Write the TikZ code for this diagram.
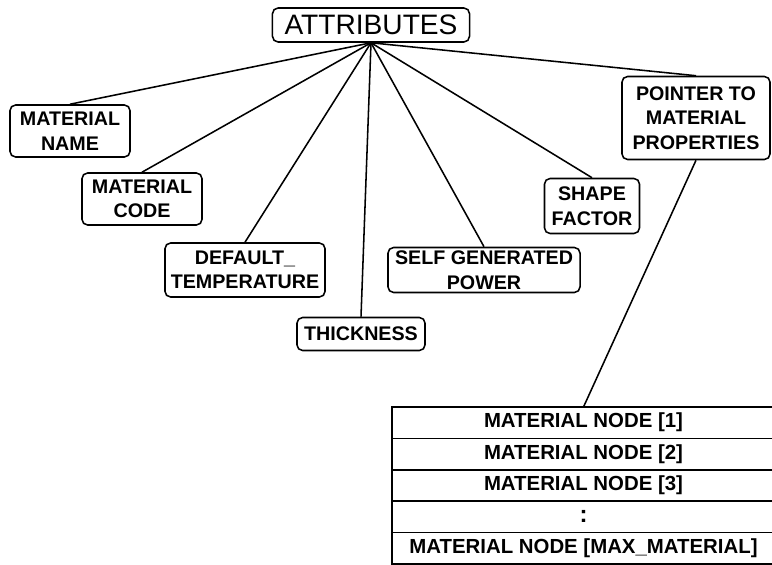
\documentclass[tikz,border=0pt]{standalone}
\usepackage{fontspec}
\setmainfont{Liberation Sans}
\usepackage{tikz}
\usetikzlibrary{positioning}

\begin{document}
\begin{tikzpicture}[
  x=0.025cm, y=-0.025cm,
  attrbox/.style={draw, rounded corners=4pt, line width=1.1pt, inner sep=0pt,
    font=\fontsize{20}{22}\selectfont},
  field/.style={draw, rounded corners=4pt, line width=1.1pt, inner sep=0pt,
    align=center, font=\fontsize{14}{17.5}\selectfont\bfseries},
  tablerow/.style={draw, line width=1.1pt, inner sep=0pt, outer sep=0pt,
    minimum width=9.575cm, minimum height=0.785cm,
    font=\fontsize{14.5}{17}\selectfont\bfseries},
  link/.style={line width=1.1pt}
]

\useasboundingbox (0,0) rectangle (772,565);
\clip (0,0) rectangle (772,565);

% Root
\node[attrbox, minimum width=4.925cm, minimum height=0.85cm] (attr) at (371,25) {ATTRIBUTES};

% Attribute fields
\node[field, minimum width=3cm, minimum height=1.3cm] (name) at (70,131) {MATERIAL\\NAME};
\node[field, minimum width=3cm, minimum height=1.3cm] (code) at (142,199) {MATERIAL\\CODE};
\node[field, minimum width=4cm, minimum height=1.35cm] (deftemp) at (245,270) {DEFAULT\_\\TEMPERATURE};
\node[field, minimum width=3.2cm, minimum height=0.825cm] (thick) at (361,334) {THICKNESS};
\node[field, minimum width=4.8cm, minimum height=1.125cm] (power) at (484,270) {SELF GENERATED\\POWER};
\node[field, minimum width=2.375cm, minimum height=1.375cm] (shape) at (592,206) {SHAPE\\FACTOR};
\node[field, minimum width=3.7cm, minimum height=2.075cm] (pointer) at (696,118) {POINTER TO\\MATERIAL\\PROPERTIES};

% Links from root
\foreach \n in {name,code,deftemp,thick,power,shape,pointer} {
  \draw[link] (attr.south) -- (\n.north);
}

% Material node table
\foreach \i in {1,2,3} {
  \node[tablerow] (row\i) at (583.5,{407+31.4*(\i-0.5)}) {MATERIAL NODE [\i]};
}
\node[tablerow, below=0pt of row3] (row4) {\fontsize{17}{17}\selectfont :};
\node[tablerow, below=0pt of row4] (row5) {MATERIAL NODE [MAX\_MATERIAL]};

% Pointer to table
\draw[link] (pointer.south) -- (row1.north);

\end{tikzpicture}
\end{document}
